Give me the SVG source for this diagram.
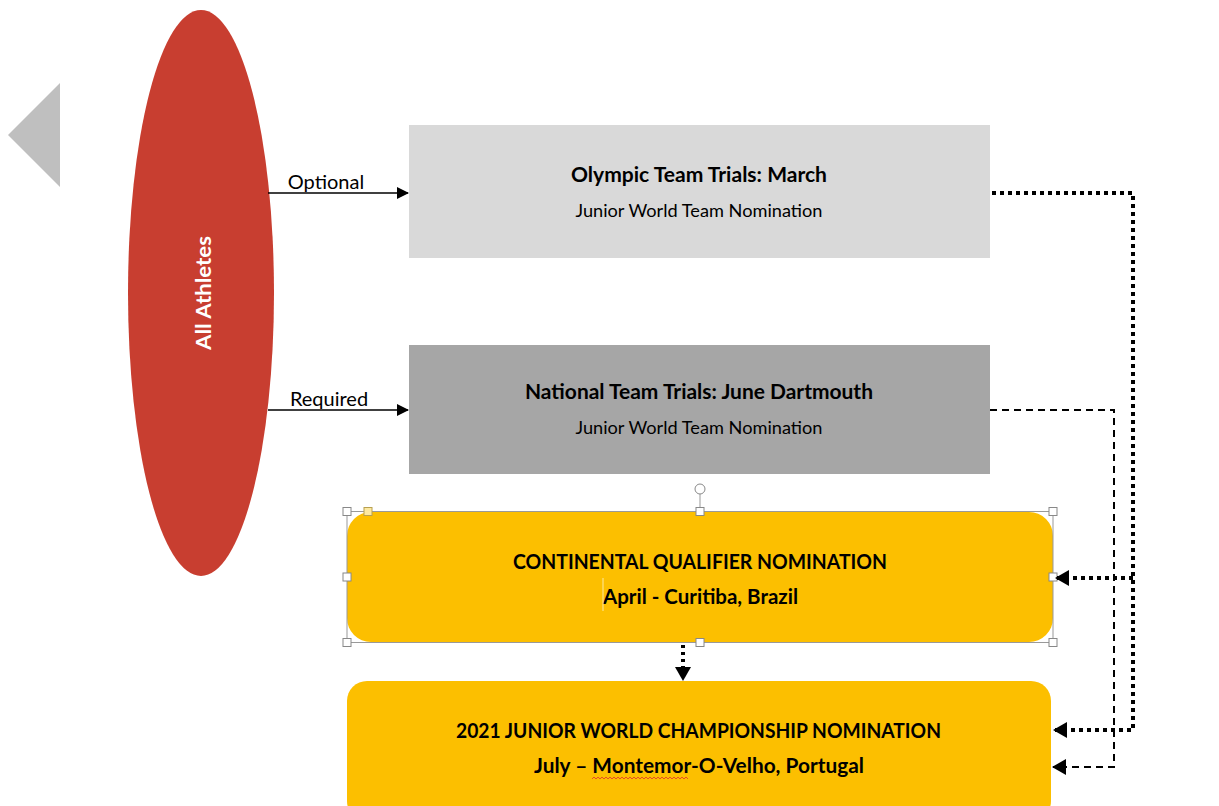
<svg xmlns="http://www.w3.org/2000/svg" width="1219" height="806" viewBox="0 0 1219 806">
<defs>
<style>
.t{font-family:Lato,"Open Sans","Liberation Sans",sans-serif;fill:#000;text-anchor:middle}
.b{font-weight:bold;font-size:20.5px}
.r{font-size:18px}
.lbl{font-family:Lato,"Liberation Sans",sans-serif;font-size:20px;fill:#000;text-anchor:middle}
.h{fill:#fff;stroke:#888;stroke-width:1}
.dot{fill:none;stroke:#000;stroke-width:4;stroke-dasharray:4 4}
.dash{fill:none;stroke:#000;stroke-width:2;stroke-dasharray:7 5}
</style>
<marker id="ah" markerWidth="12" markerHeight="12" refX="11" refY="6" orient="auto" markerUnits="userSpaceOnUse">
<path d="M0,0 L12,6 L0,12 z" fill="#000"/>
</marker>
<marker id="ahb" markerWidth="14" markerHeight="16" refX="13" refY="8" orient="auto" markerUnits="userSpaceOnUse">
<path d="M0,0 L14,8 L0,16 z" fill="#000"/>
</marker>
</defs>
<rect width="1219" height="806" fill="#fff"/>
<polygon points="8,135 60,83 60,187" fill="#bfbfbf"/>

<g id="all-athletes">
<ellipse cx="201" cy="293" rx="73" ry="283" fill="#c83e30"/>
<text class="t b" style="fill:#fff;font-size:21px" transform="translate(211,293) rotate(-90)" textLength="114" lengthAdjust="spacingAndGlyphs">All Athletes</text>
</g>

<g id="olympic">
<rect x="409" y="125" width="581" height="133" fill="#d9d9d9"/>
<text class="t b" x="699" y="182" textLength="256" lengthAdjust="spacingAndGlyphs">Olympic Team Trials: March</text>
<text class="t r" x="699" y="217" textLength="247" lengthAdjust="spacingAndGlyphs">Junior World Team Nomination</text>
</g>

<g id="national">
<rect x="409" y="345" width="581" height="129" fill="#a6a6a6"/>
<text class="t b" x="699" y="399" textLength="348" lengthAdjust="spacingAndGlyphs">National Team Trials: June Dartmouth</text>
<text class="t r" x="699" y="434" textLength="247" lengthAdjust="spacingAndGlyphs">Junior World Team Nomination</text>
</g>

<g id="continental">
<rect x="347" y="512" width="706" height="130" rx="24" fill="#fcbf00"/>
<rect x="347" y="511.5" width="706" height="131" fill="none" stroke="#999" stroke-width="1"/>
<line x1="700" y1="494" x2="700" y2="511" stroke="#999" stroke-width="1"/>
<circle cx="700" cy="489" r="5" fill="#fff" stroke="#888"/>
<rect class="h" x="343" y="507.5" width="8" height="8"/>
<rect x="364" y="507.5" width="8" height="8" fill="#fde9a0" stroke="#b8a050" stroke-width="1"/>
<rect class="h" x="696" y="507.5" width="8" height="8"/>
<rect class="h" x="1049" y="507.5" width="8" height="8"/>
<rect class="h" x="343" y="573" width="8" height="8"/>
<rect class="h" x="1049" y="573" width="8" height="8"/>
<rect class="h" x="343" y="638.5" width="8" height="8"/>
<rect class="h" x="696" y="638.5" width="8" height="8"/>
<rect class="h" x="1049" y="638.5" width="8" height="8"/>
<text class="t b" x="700" y="569" textLength="374" lengthAdjust="spacingAndGlyphs">CONTINENTAL QUALIFIER NOMINATION</text>
<text class="t b" x="700.5" y="604" textLength="195" lengthAdjust="spacingAndGlyphs">April - Curitiba, Brazil</text>
<line x1="603" y1="578" x2="603" y2="611" stroke="#fde9a0" stroke-width="1"/>
</g>

<g id="junior-world">
<rect x="347" y="681" width="704" height="140" rx="20" fill="#fcbf00"/>
<text class="t b" x="698.5" y="738" textLength="485" lengthAdjust="spacingAndGlyphs">2021 JUNIOR WORLD CHAMPIONSHIP NOMINATION</text>
<text class="t b" x="699" y="773" textLength="330" lengthAdjust="spacingAndGlyphs">July – Montemor-O-Velho, Portugal</text>
<path d="M592,779 l2,-2 l2,2 l2,-2 l2,2 l2,-2 l2,2 l2,-2 l2,2 l2,-2 l2,2 l2,-2 l2,2 l2,-2 l2,2 l2,-2 l2,2 l2,-2 l2,2 l2,-2 l2,2 l2,-2 l2,2 l2,-2 l2,2 l2,-2 l2,2 l2,-2 l2,2 l2,-2 l2,2 l2,-2 l2,2 l2,-2 l2,2 l2,-2 l2,2 l2,-2 l2,2 l2,-2 l2,2 l2,-2 l2,2 l2,-2 l2,2 l2,-2 l2,2 l2,-2 l2,2" fill="none" stroke="#e03030" stroke-width="0.8"/>
</g>

<g id="connectors">
<line x1="268" y1="193" x2="408" y2="193" stroke="#000" stroke-width="1.5" marker-end="url(#ah)"/>
<text class="lbl" x="326" y="189">Optional</text>
<line x1="268" y1="410" x2="408" y2="410" stroke="#000" stroke-width="1.5" marker-end="url(#ah)"/>
<text class="lbl" x="329" y="406">Required</text>
<polyline class="dot" points="992,193 1133,193 1133,730 1054,730" marker-end="url(#ahb)"/>
<polyline class="dot" points="1133,578 1056,578" marker-end="url(#ahb)"/>
<polyline class="dash" points="990,410 1114,410 1114,767 1053,767" marker-end="url(#ahb)"/>
<line class="dot" x1="683" y1="645" x2="683" y2="680" style="stroke-dasharray:3 4" marker-end="url(#ahb)"/>
</g>
</svg>
